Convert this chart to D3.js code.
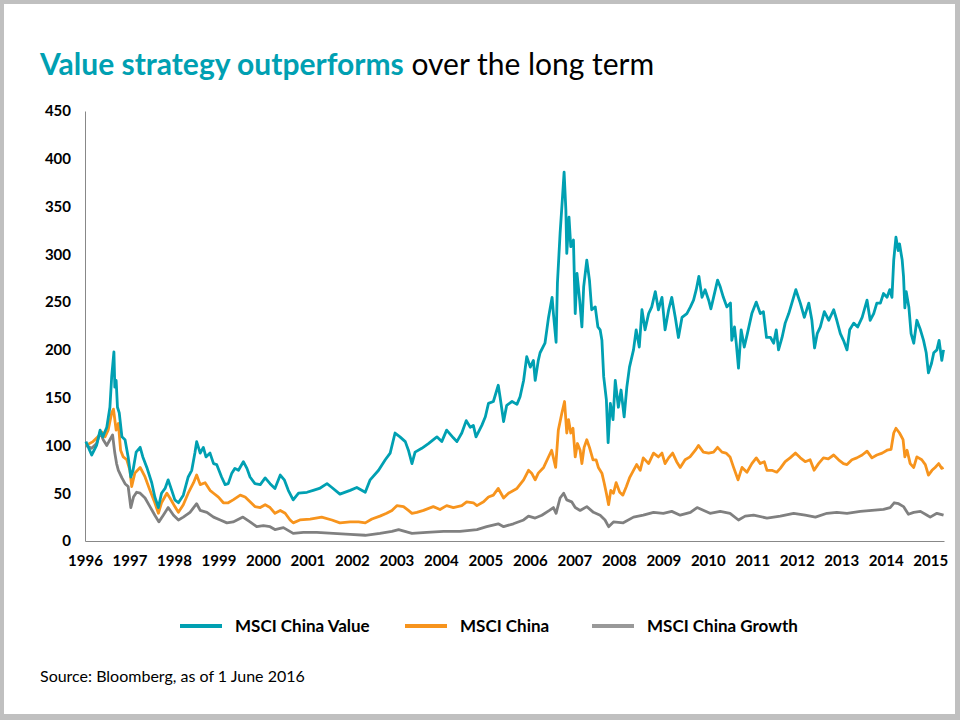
<!DOCTYPE html>
<html>
<head>
<meta charset="utf-8">
<script src="https://cdn.jsdelivr.net/npm/d3@7"></script>
<style>
  html, body { margin: 0; padding: 0; background: #fff; }
  svg { display: block; }
  text { font-family: Lato, "Open Sans", sans-serif; }
</style>
</head>
<body>
<svg id="chart" width="960" height="720"></svg>
<script>
// ---- data (decimal year, index level) ----
const years = d3.range(1996, 2016);
const yTicks = [0, 50, 100, 150, 200, 250, 300, 350, 400, 450];
const seriesNames = ["MSCI China Value", "MSCI China", "MSCI China Growth"];
const seriesColors = ["#00A0B2", "#F7941D", "#808080"];

const valueSeries = [
[1996.02,104],[1996.15,90],[1996.26,100],[1996.34,116],[1996.40,109],[1996.49,119],[1996.56,140],[1996.60,172],[1996.65,198],[1996.67,161],[1996.70,168],[1996.73,140],[1996.77,134],[1996.83,109],[1996.90,106],[1996.97,88],
[1997.03,67],[1997.08,74],[1997.15,93],[1997.24,98],[1997.30,88],[1997.39,77],[1997.50,61],[1997.57,46],[1997.65,35],[1997.72,50],[1997.80,55],[1997.87,64],[1997.95,53],
[1998.02,43],[1998.10,40],[1998.21,48],[1998.32,67],[1998.40,74],[1998.47,92],[1998.51,104],[1998.59,92],[1998.66,98],[1998.72,88],[1998.81,92],[1998.89,81],[1998.96,80],
[1999.07,67],[1999.15,59],[1999.22,60],[1999.30,71],[1999.37,76],[1999.45,74],[1999.56,83],[1999.64,76],[1999.71,67],[1999.82,60],[1999.94,59],
[2000.05,66],[2000.16,60],[2000.27,55],[2000.39,69],[2000.48,64],[2000.57,53],[2000.68,43],[2000.80,50],[2000.99,51],
[2001.13,53],[2001.27,55],[2001.44,60],[2001.55,56],[2001.73,49],[2001.96,53],[2002.11,56],[2002.30,51],[2002.41,64],[2002.60,74],[2002.75,85],[2002.86,92],[2002.97,113],
[2003.08,109],[2003.20,104],[2003.27,95],[2003.35,81],[2003.42,93],[2003.57,97],[2003.72,102],[2003.91,109],[2004.02,104],[2004.13,116],[2004.28,108],[2004.36,104],[2004.47,113],[2004.57,126],[2004.66,119],[2004.73,121],[2004.79,109],[2004.92,121],
[2005.00,130],[2005.07,144],[2005.18,146],[2005.29,163],[2005.33,151],[2005.41,125],[2005.48,142],[2005.60,146],[2005.71,143],[2005.78,151],[2005.86,168],[2005.93,193],
[2006.01,182],[2006.08,189],[2006.12,168],[2006.19,189],[2006.23,197],[2006.34,207],[2006.42,234],[2006.50,255],[2006.53,238],[2006.59,208],[2006.62,270],[2006.68,322],[2006.73,357],[2006.77,386],[2006.81,346],[2006.83,301],[2006.88,339],[2006.92,308],[2006.98,315],
[2007.02,238],[2007.06,280],[2007.12,252],[2007.17,224],[2007.21,266],[2007.28,294],[2007.34,273],[2007.39,242],[2007.47,245],[2007.53,224],[2007.58,221],[2007.62,210],[2007.66,172],[2007.72,148],[2007.76,103],[2007.81,144],[2007.87,127],[2007.92,168],[2007.99,140],
[2008.05,158],[2008.12,130],[2008.18,161],[2008.24,182],[2008.33,200],[2008.39,221],[2008.46,203],[2008.52,242],[2008.59,221],[2008.67,238],[2008.74,245],[2008.82,261],[2008.89,242],[2008.97,255],
[2009.04,221],[2009.12,242],[2009.19,255],[2009.27,234],[2009.34,213],[2009.42,234],[2009.53,238],[2009.61,245],[2009.68,252],[2009.74,263],[2009.80,277],[2009.87,255],[2009.94,263],
[2010.02,252],[2010.07,243],[2010.13,255],[2010.22,273],[2010.28,266],[2010.35,255],[2010.43,245],[2010.51,249],[2010.54,210],[2010.60,224],[2010.64,207],[2010.69,181],[2010.75,221],[2010.82,203],[2010.89,217],[2010.99,238],
[2011.09,250],[2011.18,238],[2011.25,240],[2011.32,213],[2011.41,213],[2011.48,207],[2011.54,221],[2011.59,200],[2011.67,213],[2011.74,228],[2011.82,238],[2011.89,249],[2011.98,263],
[2012.08,249],[2012.17,234],[2012.27,249],[2012.34,231],[2012.40,202],[2012.46,217],[2012.53,224],[2012.62,240],[2012.72,231],[2012.83,242],[2012.90,231],[2012.98,217],
[2013.05,210],[2013.13,200],[2013.19,221],[2013.28,228],[2013.37,224],[2013.47,234],[2013.58,252],[2013.65,231],[2013.73,238],[2013.80,249],[2013.88,249],[2013.95,259],
[2014.03,255],[2014.09,263],[2014.14,255],[2014.18,294],[2014.23,318],[2014.28,304],[2014.31,311],[2014.37,294],[2014.40,277],[2014.43,244],[2014.46,261],[2014.52,245],[2014.57,217],[2014.63,207],[2014.70,231],[2014.78,221],[2014.85,210],[2014.91,197],[2014.96,176],
[2015.03,186],[2015.08,197],[2015.15,200],[2015.20,210],[2015.26,189],[2015.30,200]
];

const chinaSeries = [
[1996.02,100],[1996.18,104],[1996.29,109],[1996.38,114],[1996.45,109],[1996.52,116],[1996.60,134],[1996.64,138],[1996.70,116],[1996.75,123],[1996.80,95],[1996.86,88],[1996.94,85],
[1997.01,74],[1997.05,57],[1997.12,71],[1997.24,77],[1997.35,67],[1997.46,53],[1997.57,40],[1997.65,29],[1997.72,40],[1997.84,50],[1997.91,45],
[1998.02,36],[1998.10,30],[1998.21,38],[1998.32,50],[1998.44,61],[1998.51,69],[1998.59,59],[1998.70,61],[1998.81,53],[1998.89,50],
[1999.00,46],[1999.11,40],[1999.22,40],[1999.33,43],[1999.49,48],[1999.60,46],[1999.71,41],[1999.82,36],[1999.94,35],
[2000.05,38],[2000.16,35],[2000.27,29],[2000.39,32],[2000.50,29],[2000.61,22],[2000.68,19],[2000.83,22],
[2001.06,23],[2001.32,25],[2001.55,22],[2001.73,19],[2001.96,20],[2002.15,20],[2002.30,19],[2002.45,23],[2002.63,26],[2002.78,29],[2002.90,32],
[2003.01,37],[2003.16,36],[2003.27,32],[2003.35,29],[2003.46,30],[2003.61,32],[2003.83,36],[2003.98,33],[2004.13,37],[2004.28,35],[2004.47,37],[2004.58,41],[2004.73,40],[2004.81,37],[2004.96,41],
[2005.07,46],[2005.18,48],[2005.29,55],[2005.41,45],[2005.52,50],[2005.71,55],[2005.86,64],[2005.97,74],
[2006.04,71],[2006.12,64],[2006.19,71],[2006.31,77],[2006.44,90],[2006.49,95],[2006.58,77],[2006.64,116],[2006.72,134],[2006.78,146],[2006.83,113],[2006.87,127],[2006.92,113],[2006.97,118],
[2007.02,88],[2007.07,102],[2007.13,95],[2007.17,81],[2007.22,98],[2007.28,106],[2007.34,98],[2007.42,85],[2007.49,85],[2007.54,77],[2007.62,71],[2007.67,61],[2007.72,50],[2007.77,38],[2007.82,53],[2007.88,50],[2007.94,61],
[2008.02,51],[2008.09,48],[2008.17,57],[2008.24,66],[2008.33,74],[2008.40,80],[2008.48,74],[2008.55,87],[2008.67,81],[2008.78,92],[2008.89,88],[2008.97,92],
[2009.04,81],[2009.12,87],[2009.21,92],[2009.30,83],[2009.38,77],[2009.49,85],[2009.60,88],[2009.72,95],[2009.79,100],[2009.90,93],
[2010.02,92],[2010.13,93],[2010.22,98],[2010.32,93],[2010.41,92],[2010.50,88],[2010.58,77],[2010.68,64],[2010.77,77],[2010.88,72],[2010.99,81],
[2011.09,87],[2011.18,81],[2011.27,83],[2011.33,74],[2011.44,74],[2011.55,72],[2011.63,76],[2011.74,83],[2011.85,87],[2011.97,92],
[2012.08,87],[2012.19,83],[2012.30,85],[2012.39,74],[2012.49,81],[2012.60,87],[2012.71,86],[2012.83,90],[2012.94,85],
[2013.05,81],[2013.13,80],[2013.24,85],[2013.35,87],[2013.47,90],[2013.58,94],[2013.69,87],[2013.80,90],[2013.92,92],
[2014.03,95],[2014.12,96],[2014.18,113],[2014.23,118],[2014.31,113],[2014.39,106],[2014.43,88],[2014.48,95],[2014.55,81],[2014.63,77],[2014.70,88],[2014.81,85],[2014.89,80],[2014.96,69],
[2015.04,74],[2015.11,77],[2015.19,81],[2015.26,76],[2015.30,77]
];

const growthSeries = [
[1996.02,100],[1996.15,97],[1996.26,102],[1996.34,114],[1996.41,106],[1996.49,100],[1996.56,106],[1996.62,111],[1996.67,92],[1996.71,81],[1996.75,74],[1996.83,66],[1996.90,60],[1996.97,57],
[1997.03,35],[1997.09,46],[1997.16,51],[1997.24,50],[1997.35,45],[1997.46,36],[1997.57,27],[1997.66,20],[1997.76,27],[1997.87,35],[1997.99,27],
[1998.10,22],[1998.21,25],[1998.36,30],[1998.51,39],[1998.59,32],[1998.74,30],[1998.89,25],
[1999.04,22],[1999.19,19],[1999.33,20],[1999.55,25],[1999.71,20],[1999.86,15],
[2000.01,16],[2000.16,15],[2000.27,12],[2000.46,14],[2000.68,8],[2000.91,9],
[2001.21,9],[2001.58,8],[2001.96,7],[2002.30,6],[2002.63,8],[2002.90,10],[2003.05,12],[2003.35,8],[2003.68,9],
[2004.06,10],[2004.43,10],[2004.81,12],[2005.03,15],[2005.29,18],[2005.41,15],[2005.63,18],[2005.86,22],[2005.97,26],
[2006.12,24],[2006.27,27],[2006.44,32],[2006.53,35],[2006.59,29],[2006.68,45],[2006.76,50],[2006.83,43],[2006.94,41],
[2007.02,35],[2007.13,32],[2007.28,36],[2007.43,30],[2007.58,27],[2007.69,22],[2007.77,15],[2007.88,20],
[2008.10,19],[2008.33,25],[2008.55,27],[2008.78,30],
[2009.00,29],[2009.19,31],[2009.38,27],[2009.61,30],[2009.76,35],
[2010.05,29],[2010.28,31],[2010.50,29],[2010.69,22],[2010.84,26],
[2011.03,27],[2011.33,24],[2011.63,26],[2011.93,29],
[2012.19,27],[2012.42,25],[2012.68,29],[2012.90,30],
[2013.13,29],[2013.43,31],[2013.69,32],[2013.95,33],
[2014.10,35],[2014.19,40],[2014.29,39],[2014.40,36],[2014.51,28],[2014.63,30],[2014.78,31],[2014.93,27],
[2015.00,25],[2015.15,29],[2015.30,27]
];

const allSeries = [valueSeries, chinaSeries, growthSeries];

// ---- drawing ----
const svg = d3.select("#chart");

// slide frame
svg.append("rect").attr("x", 0).attr("y", 0).attr("width", 960).attr("height", 720).attr("fill", "#c0c0c0");
svg.append("rect").attr("x", 4).attr("y", 4).attr("width", 951).attr("height", 710).attr("fill", "#ffffff");

// title
const title = svg.append("text").attr("x", 40).attr("y", 75).attr("font-size", 30);
title.append("tspan").attr("fill", "#00A0B2").attr("font-weight", "bold").text("Value strategy outperforms");
title.append("tspan").attr("fill", "#000").text(" over the long term");

const x = d3.scaleLinear().domain([1996, 2015.31]).range([85, 944]);
const y = d3.scaleLinear().domain([0, 450]).range([541, 111]);

// y axis
const yAxis = svg.append("g").attr("transform", "translate(85,0)")
  .call(d3.axisLeft(y).tickValues(yTicks).tickSize(0).tickPadding(14));
yAxis.select(".domain").attr("stroke", "#888").attr("stroke-width", 1);
yAxis.selectAll("text").attr("font-size", 15).attr("font-weight", "bold").attr("fill", "#000")
  .attr("font-family", "Lato, sans-serif");

// x axis
const xAxis = svg.append("g").attr("transform", "translate(0,541)")
  .call(d3.axisBottom(x).tickValues(years).tickFormat(d3.format("d")).tickSize(0).tickPadding(14));
xAxis.select(".domain").attr("stroke", "#888").attr("stroke-width", 1);
xAxis.selectAll("text").attr("font-size", 15).attr("font-weight", "bold").attr("fill", "#000")
  .attr("font-family", "Lato, sans-serif");

// lines (draw growth first, then china, then value on top)
const line = d3.line().x(d => x(d[0])).y(d => y(d[1]));
[2, 1, 0].forEach(i => {
  svg.append("path").datum(allSeries[i])
    .attr("fill", "none").attr("stroke", seriesColors[i]).attr("stroke-width", 2.8)
    .attr("stroke-linejoin", "round").attr("d", line);
});

// legend
const legendX = [180, 405, 592];
seriesNames.forEach((name, i) => {
  const g = svg.append("g").attr("transform", `translate(${legendX[i]},626)`);
  g.append("line").attr("x1", 0).attr("x2", 42).attr("y1", 0).attr("y2", 0)
    .attr("stroke", i === 2 ? "#999" : seriesColors[i]).attr("stroke-width", 4);
  g.append("text").attr("x", 55).attr("y", 6).attr("font-size", 17).attr("font-weight", "bold")
    .attr("fill", "#000").text(name);
});

// source
svg.append("text").attr("x", 40).attr("y", 682).attr("font-size", 16).attr("fill", "#000")
  .text("Source: Bloomberg, as of 1 June 2016");
</script>
</body>
</html>
